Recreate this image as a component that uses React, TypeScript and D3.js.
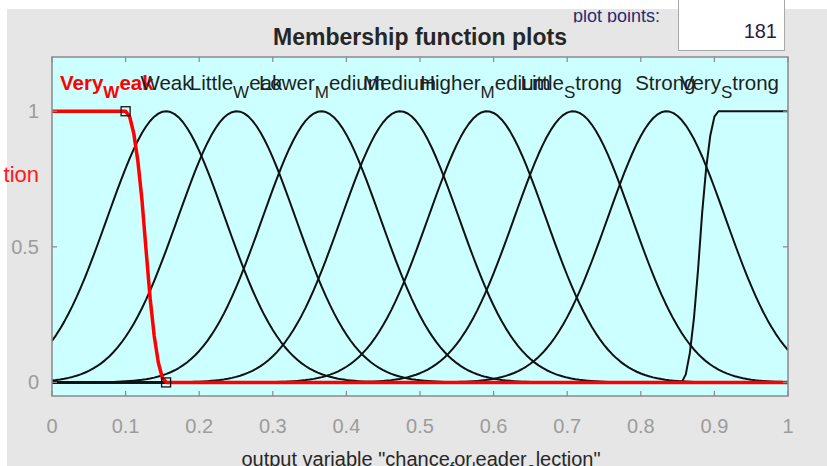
import React, { useEffect, useRef } from "react";
import * as d3 from "d3";

// Output variable membership functions (MATLAB-style mf editor view)
const mfNames = [
  "Very_Weak",
  "Weak",
  "Little_Weak",
  "Lower_Medium",
  "Medium",
  "Higher_Medium",
  "Little_Strong",
  "Strong",
  "Very_Strong",
];
const mfTypes = ["zmf", "gaussmf", "gaussmf", "gaussmf", "gaussmf", "gaussmf", "gaussmf", "gaussmf", "smf"];
const mfParams: number[][] = [
  [0.1, 0.155],
  [0.08, 0.155],
  [0.08, 0.251],
  [0.08, 0.366],
  [0.08, 0.473],
  [0.08, 0.591],
  [0.08, 0.708],
  [0.08, 0.835],
  [0.855, 0.905],
];
const selectedMf = 0;
const plotPoints = 181;
const xRange = [0, 1];
const yRange = [-0.05, 1.2];
const xTicks = [0, 0.1, 0.2, 0.3, 0.4, 0.5, 0.6, 0.7, 0.8, 0.9, 1];
const yTicks = [0, 0.5, 1];
const titleText = "Membership function plots";
const xLabelText = 'output variable "chance_for_leader_election"';
const plotPointsLabel = "plot points:";
const sideLabel = "tion";

const W = 827;
const H = 466;
const M = { left: 52, right: 788, top: 57, bottom: 396 };
const FONT = "'Liberation Sans', Arial, Helvetica, sans-serif";

function evalMf(type: string, p: number[], x: number): number {
  if (type === "gaussmf") {
    const [s, c] = p;
    return Math.exp(-((x - c) * (x - c)) / (2 * s * s));
  }
  if (type === "zmf") {
    const [a, b] = p;
    if (x <= a) return 1;
    if (x >= b) return 0;
    const m = (a + b) / 2;
    if (x <= m) return 1 - 2 * Math.pow((x - a) / (b - a), 2);
    return 2 * Math.pow((x - b) / (b - a), 2);
  }
  if (type === "smf") {
    const [a, b] = p;
    if (x <= a) return 0;
    if (x >= b) return 1;
    const m = (a + b) / 2;
    if (x <= m) return 2 * Math.pow((x - a) / (b - a), 2);
    return 1 - 2 * Math.pow((x - b) / (b - a), 2);
  }
  return 0;
}

// Split a TeX-like string: "_X" makes X a subscript
function texParts(s: string): { t: string; sub: boolean }[] {
  const parts: { t: string; sub: boolean }[] = [];
  let buf = "";
  for (let i = 0; i < s.length; i++) {
    if (s[i] === "_" && i + 1 < s.length) {
      if (buf) parts.push({ t: buf, sub: false });
      buf = "";
      parts.push({ t: s[i + 1], sub: true });
      i++;
    } else buf += s[i];
  }
  if (buf) parts.push({ t: buf, sub: false });
  return parts;
}

function appendTex(
  text: d3.Selection<SVGTextElement, unknown, null, undefined>,
  s: string,
  size: number,
  subSize: number,
  shift: number
) {
  let down = false;
  texParts(s).forEach((p) => {
    const ts = text.append("tspan").text(p.t);
    if (p.sub) {
      ts.attr("font-size", subSize).attr("dy", down ? 0 : shift);
      down = true;
    } else {
      ts.attr("font-size", size).attr("dy", down ? -shift : 0);
      down = false;
    }
  });
}

export default function App() {
  const ref = useRef<SVGSVGElement | null>(null);

  useEffect(() => {
    const svg = d3.select(ref.current!);
    svg.selectAll("*").remove();

    const x = d3.scaleLinear().domain(xRange).range([M.left, M.right]);
    const y = d3.scaleLinear().domain(yRange).range([M.bottom, M.top]);

    const defs = svg.append("defs");

    // window panel
    svg.append("rect").attr("width", W).attr("height", H).attr("fill", "#ffffff");
    svg.append("rect").attr("x", 7).attr("y", 9).attr("width", W - 7).attr("height", H - 9).attr("fill", "#e6e6e6");

    // side label (partially hidden at the window edge)
    svg
      .append("text")
      .attr("x", 39)
      .attr("y", 182)
      .attr("text-anchor", "end")
      .attr("font-family", FONT)
      .attr("font-size", 22)
      .attr("fill", "#ff1a1a")
      .text(sideLabel);

    // title
    svg
      .append("text")
      .attr("x", 420)
      .attr("y", 45)
      .attr("text-anchor", "middle")
      .attr("font-family", FONT)
      .attr("font-size", 23)
      .attr("font-weight", "bold")
      .attr("fill", "#262626")
      .text(titleText);

    // plot points control
    defs
      .append("clipPath")
      .attr("id", "ppclip")
      .append("rect")
      .attr("x", 560)
      .attr("y", 10)
      .attr("width", 115)
      .attr("height", 12.5);
    svg
      .append("text")
      .attr("clip-path", "url(#ppclip)")
      .attr("x", 573)
      .attr("y", 22)
      .attr("font-family", FONT)
      .attr("font-size", 18)
      .attr("fill", "#2a2a6e")
      .text(plotPointsLabel);
    svg
      .append("rect")
      .attr("x", 678.5)
      .attr("y", -1)
      .attr("width", 106)
      .attr("height", 51.5)
      .attr("fill", "#ffffff")
      .attr("stroke", "#a8a8a8")
      .attr("stroke-width", 1);
    svg
      .append("text")
      .attr("x", 777)
      .attr("y", 38)
      .attr("text-anchor", "end")
      .attr("font-family", FONT)
      .attr("font-size", 20)
      .attr("fill", "#2a1a4a")
      .text(String(plotPoints));

    // axes background
    svg
      .append("rect")
      .attr("x", M.left)
      .attr("y", M.top)
      .attr("width", M.right - M.left)
      .attr("height", M.bottom - M.top)
      .attr("fill", "#ccffff");

    defs
      .append("clipPath")
      .attr("id", "axclip")
      .append("rect")
      .attr("x", M.left)
      .attr("y", M.top)
      .attr("width", M.right - M.left)
      .attr("height", M.bottom - M.top);

    const xs = d3.range(plotPoints).map((i) => xRange[0] + ((xRange[1] - xRange[0]) * i) / (plotPoints - 1));
    const line = d3
      .line<[number, number]>()
      .x((d) => x(d[0]))
      .y((d) => y(d[1]));

    const curves = svg.append("g").attr("clip-path", "url(#axclip)");
    const order = mfNames.map((_, i) => i).filter((i) => i !== selectedMf);
    order.push(selectedMf);
    order.forEach((i) => {
      const pts = xs.map((v) => [v, evalMf(mfTypes[i], mfParams[i], v)] as [number, number]);
      const sel = i === selectedMf;
      curves
        .append("path")
        .attr("d", line(pts)!)
        .attr("fill", "none")
        .attr("stroke", sel ? "#ff0000" : "#111111")
        .attr("stroke-width", sel ? 3.5 : 2)
        .attr("stroke-linejoin", "round");
    });

    // handles of the selected function at its parameter points
    mfParams[selectedMf].forEach((p) => {
      const v = evalMf(mfTypes[selectedMf], mfParams[selectedMf], p);
      svg
        .append("rect")
        .attr("x", x(p) - 4.5)
        .attr("y", y(v) - 4.5)
        .attr("width", 9)
        .attr("height", 9)
        .attr("fill", "none")
        .attr("stroke", "#111111")
        .attr("stroke-width", 1.3);
    });

    // function names above each curve
    const labels = svg.append("g");
    mfNames.forEach((name, i) => {
      const vals = xs.map((v) => evalMf(mfTypes[i], mfParams[i], v));
      const mx = d3.max(vals)!;
      const at = xs.filter((_, k) => vals[k] >= mx - 1e-9);
      const cx = d3.mean(at)!;
      const sel = i === selectedMf;
      const t = labels
        .append("text")
        .attr("x", x(cx))
        .attr("y", y(1.1) + 6)
        .attr("text-anchor", "middle")
        .attr("font-family", FONT)
        .attr("font-weight", sel ? "bold" : "normal")
        .attr("fill", sel ? "#ff0000" : "#1e1e1e");
      appendTex(t, name, 20.5, 17, 8);
      const bb = (t.node() as SVGTextElement).getBBox();
      let dx = 0;
      if (bb.x < M.left + 8) dx = M.left + 8 - bb.x;
      if (bb.x + bb.width > M.right - 9) dx = M.right - 9 - (bb.x + bb.width);
      if (dx) t.attr("x", x(cx) + dx);
    });

    // axes box and ticks
    const axisColor = "#8a8a8a";
    svg
      .append("rect")
      .attr("x", M.left)
      .attr("y", M.top)
      .attr("width", M.right - M.left)
      .attr("height", M.bottom - M.top)
      .attr("fill", "none")
      .attr("stroke", axisColor)
      .attr("stroke-width", 1.5);
    const tl = 5;
    xTicks.forEach((v) => {
      svg.append("line").attr("x1", x(v)).attr("x2", x(v)).attr("y1", M.bottom).attr("y2", M.bottom - tl).attr("stroke", axisColor).attr("stroke-width", 1.2);
      svg.append("line").attr("x1", x(v)).attr("x2", x(v)).attr("y1", M.top).attr("y2", M.top + tl).attr("stroke", axisColor).attr("stroke-width", 1.2);
      svg
        .append("text")
        .attr("x", x(v))
        .attr("y", 433)
        .attr("text-anchor", "middle")
        .attr("font-family", FONT)
        .attr("font-size", 20)
        .attr("fill", "#9c9c9c")
        .text(d3.format("~g")(v));
    });
    yTicks.forEach((v) => {
      svg.append("line").attr("x1", M.left).attr("x2", M.left + tl).attr("y1", y(v)).attr("y2", y(v)).attr("stroke", axisColor).attr("stroke-width", 1.2);
      svg.append("line").attr("x1", M.right).attr("x2", M.right - tl).attr("y1", y(v)).attr("y2", y(v)).attr("stroke", axisColor).attr("stroke-width", 1.2);
      svg
        .append("text")
        .attr("x", 39)
        .attr("y", y(v) + 7)
        .attr("text-anchor", "end")
        .attr("font-family", FONT)
        .attr("font-size", 20)
        .attr("fill", "#9c9c9c")
        .text(d3.format("~g")(v));
    });

    // x axis label (runs past the bottom edge of the window)
    const xl = svg
      .append("text")
      .attr("x", (M.left + M.right) / 2 + 1)
      .attr("y", 465.5)
      .attr("text-anchor", "middle")
      .attr("font-family", FONT)
      .attr("fill", "#262626");
    appendTex(xl, xLabelText, 20, 16, 8);
  }, []);

  return (
    <svg
      ref={ref}
      width={W}
      height={H}
      style={{ position: "absolute", left: 0, top: 0, display: "block" }}
    />
  );
}
